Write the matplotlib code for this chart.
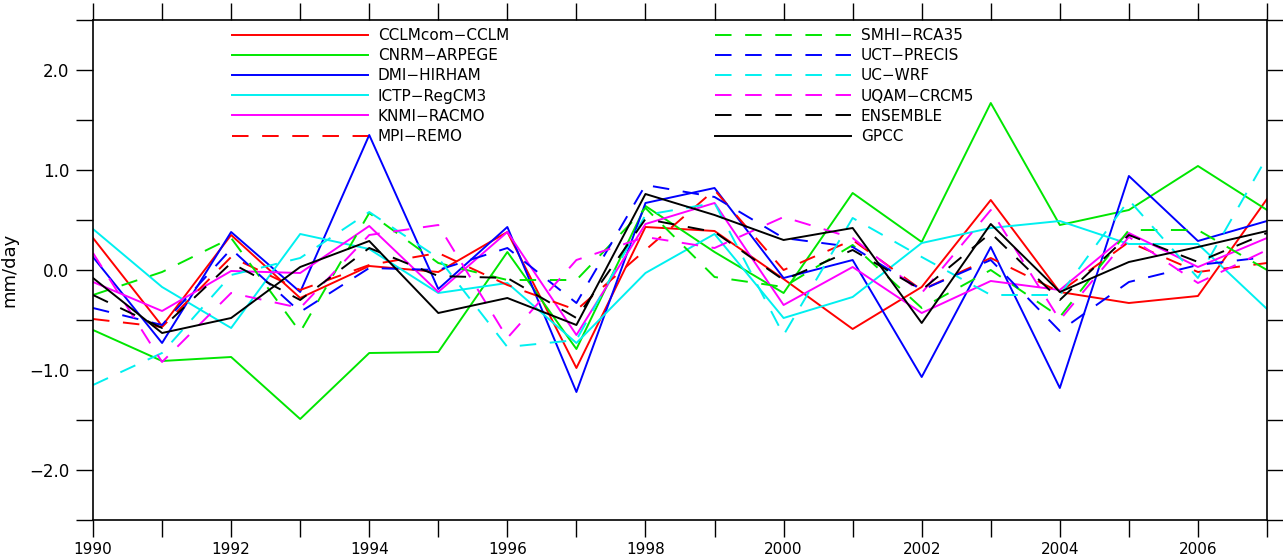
import numpy as np
import matplotlib
matplotlib.use("Agg")
import matplotlib.pyplot as plt
from matplotlib.ticker import MultipleLocator

years = np.arange(1990, 2008)

# Аномалии осадков, мм/день
cclm = [0.32, -0.56, 0.35, -0.28, 0.04, -0.02, 0.38, -0.98, 0.43, 0.39,
        -0.09, -0.59, -0.17, 0.70, -0.22, -0.33, -0.26, 0.71]
arpege = [-0.60, -0.91, -0.87, -1.49, -0.83, -0.82, 0.18, -0.79, 0.64, 0.18,
          -0.23, 0.77, 0.28, 1.67, 0.45, 0.60, 1.04, 0.60]
hirham = [0.13, -0.73, 0.38, -0.22, 1.35, -0.19, 0.43, -1.22, 0.67, 0.82,
          -0.08, 0.10, -1.07, 0.23, -1.18, 0.94, 0.29, 0.49]
regcm3 = [0.41, -0.17, -0.58, 0.36, 0.21, -0.23, -0.13, -0.73, -0.03, 0.36,
          -0.48, -0.27, 0.27, 0.42, 0.49, 0.26, 0.26, -0.39]
racmo = [-0.12, -0.41, -0.01, -0.03, 0.44, -0.22, 0.38, -0.65, 0.46, 0.67,
         -0.35, 0.03, -0.43, -0.11, -0.20, 0.37, 0.03, 0.32]
remo = [-0.49, -0.57, 0.13, -0.20, 0.05, 0.17, -0.15, -0.40, 0.20, 0.80,
        0.00, 0.30, -0.20, 0.12, -0.22, 0.28, -0.02, 0.07]
rca35 = [-0.25, -0.02, 0.32, -0.62, 0.57, 0.07, -0.10, -0.10, 0.62, -0.07,
         -0.17, 0.25, -0.38, 0.00, -0.47, 0.40, 0.40, 0.00]
precis = [-0.38, -0.55, 0.21, -0.42, 0.02, 0.00, 0.22, -0.33, 0.85, 0.73,
          0.32, 0.23, -0.20, 0.10, -0.61, -0.12, 0.05, 0.13]
wrf = [-1.15, -0.83, -0.05, 0.12, 0.58, 0.12, -0.77, -0.70, 0.55, 0.67,
       -0.65, 0.52, 0.13, -0.25, -0.25, 0.70, -0.08, 1.13]
crcm5 = [0.17, -0.92, -0.23, -0.38, 0.35, 0.45, -0.68, 0.10, 0.33, 0.22,
         0.53, 0.32, -0.23, 0.60, -0.50, 0.33, -0.13, 0.20]
ensemble = [-0.25, -0.58, 0.07, -0.30, 0.22, -0.06, -0.08, -0.48, 0.51, 0.38,
            -0.10, 0.20, -0.20, 0.37, -0.30, 0.35, 0.08, 0.37]
gpcc = [-0.08, -0.63, -0.48, 0.03, 0.29, -0.43, -0.28, -0.55, 0.76, 0.55,
        0.30, 0.42, -0.53, 0.46, -0.22, 0.08, 0.23, 0.39]

names = ["CCLMcom\u2212CCLM", "CNRM\u2212ARPEGE", "DMI\u2212HIRHAM", "ICTP\u2212RegCM3",
         "KNMI\u2212RACMO", "MPI\u2212REMO", "SMHI\u2212RCA35", "UCT\u2212PRECIS",
         "UC\u2212WRF", "UQAM\u2212CRCM5", "ENSEMBLE", "GPCC"]
series = [cclm, arpege, hirham, regcm3, racmo, remo,
          rca35, precis, wrf, crcm5, ensemble, gpcc]

RED, GREEN, BLUE, CYAN, MAG, BLK = "#ff0000", "#00e600", "#0000ff", "#00f0f0", "#ff00ff", "#000000"
colors = [RED, GREEN, BLUE, CYAN, MAG, RED, GREEN, BLUE, CYAN, MAG, BLK, BLK]
dashed = [False] * 5 + [True] * 6 + [False]

fig = plt.figure(figsize=(12.83, 5.58), dpi=100)
ax = fig.add_axes([93 / 1283, 38 / 558, 1174 / 1283, 500 / 558])

lw = 1.4
handles = []
for name, vals, c, d in zip(names, series, colors, dashed):
    ls = (0, (8.5, 7)) if d else "-"
    h, = ax.plot(years, vals, color=c, lw=lw, linestyle=ls, label=name)
    handles.append(h)

ax.set_xlim(1990, 2007)
ax.set_ylim(-2.5, 2.5)
ax.xaxis.set_major_locator(MultipleLocator(2))
ax.xaxis.set_minor_locator(MultipleLocator(1))
ax.yaxis.set_minor_locator(MultipleLocator(0.5))
ax.set_yticks([-2, -1, 0, 1, 2])
ax.set_yticklabels(["\u22122.0", "\u22121.0", "0.0", "1.0", "2.0"])

ax.tick_params(which="both", direction="out", length=12, width=1,
               top=True, right=True, labelsize=11)
ax.tick_params(axis="y", labelsize=12, pad=5)
for s in ax.spines.values():
    s.set_linewidth(1.2)
ax.set_ylabel("mm/day", fontsize=13, labelpad=8)

leg_kw = dict(frameon=False, loc="upper left", fontsize=11, handlelength=8.9,
              handletextpad=0.65, labelspacing=0.34, borderpad=0, borderaxespad=0)
leg1 = ax.legend(handles[:6], names[:6], bbox_to_anchor=(139 / 1174, 0.984), **leg_kw)
ax.add_artist(leg1)
ax.legend(handles[6:], names[6:], bbox_to_anchor=(622 / 1174, 0.984), **leg_kw)

fig.savefig("out.png", dpi=100)
